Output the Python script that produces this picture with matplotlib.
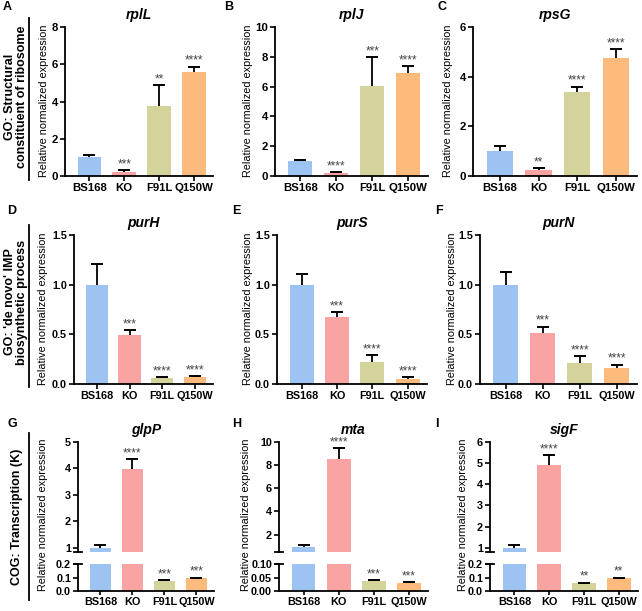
import numpy as np
import matplotlib
matplotlib.use("Agg")
import matplotlib.pyplot as plt
from matplotlib.lines import Line2D

plt.rcParams['font.family'] = ['Liberation Sans', 'DejaVu Sans']
plt.rcParams['font.weight'] = 'bold'

W, H = 642, 611

groups = ["BS168", "KO", "F91L", "Q150W"]
bar_colors = ["#9cc3f2", "#f9a3a3", "#d4d39c", "#fdba7d"]

# row 1: GO structural constituent of ribosome
rplL_mean = [1.0, 0.24, 3.76, 5.58]
rplL_err = [0.15, 0.06, 1.12, 0.29]
rplL_sig = ["", "***", "**", "****"]

rplJ_mean = [0.99, 0.2, 6.02, 6.94]
rplJ_err = [0.09, 0.07, 1.94, 0.41]
rplJ_sig = ["", "****", "***", "****"]

rpsG_mean = [1.0, 0.26, 3.4, 4.74]
rpsG_err = [0.21, 0.05, 0.2, 0.36]
rpsG_sig = ["", "**", "****", "****"]

# row 2: GO de novo IMP biosynthetic process
purH_mean = [1.0, 0.49, 0.064, 0.07]
purH_err = [0.21, 0.05, 0.006, 0.007]
purH_sig = ["", "***", "****", "****"]

purS_mean = [1.0, 0.675, 0.22, 0.054]
purS_err = [0.11, 0.05, 0.07, 0.016]
purS_sig = ["", "***", "****", "****"]

purN_mean = [1.0, 0.515, 0.21, 0.162]
purN_err = [0.13, 0.062, 0.068, 0.033]
purN_sig = ["", "***", "****", "****"]

# row 3: COG transcription (K)
glpP_mean = [1.0, 3.97, 0.077, 0.095]
glpP_err = [0.11, 0.38, 0.004, 0.004]
glpP_sig = ["", "****", "***", "***"]

mta_mean = [0.97, 8.5, 0.037, 0.031]
mta_err = [0.16, 0.95, 0.0025, 0.002]
mta_sig = ["", "****", "***", "***"]

sigF_mean = [1.0, 4.92, 0.057, 0.094]
sigF_err = [0.11, 0.46, 0.005, 0.006]
sigF_sig = ["", "****", "**", "**"]

fig = plt.figure(figsize=(W / 100, H / 100), dpi=100)


def px_axes(left, top, right, bottom):
    return fig.add_axes([left / W, 1 - bottom / H, (right - left) / W, (bottom - top) / H])


def style(ax, fs):
    for s in ["top", "right"]:
        ax.spines[s].set_visible(False)
    for s in ["left", "bottom"]:
        ax.spines[s].set_linewidth(1.3)
    ax.tick_params(width=1.2, length=3.5, labelsize=fs, pad=1.5)
    ax.set_xlim(-0.7, 3.55)


def draw_bars(ax, mean, err, sig):
    x = np.arange(len(groups))
    mean = np.array(mean)
    tops = mean + np.array(err)
    ax.bar(x, mean, width=0.68, color=bar_colors)
    ax.vlines(x, mean, tops, color="black", lw=1.3)
    ax.plot(x, tops, ls="none", marker="_", ms=9, mew=1.4, color="black")
    for xi, t, s in zip(x, tops, sig):
        if s:
            ax.annotate(s, (xi, t), xytext=(0, 0), textcoords="offset points",
                        ha="center", va="bottom", fontsize=8.5, color="#444444",
                        fontweight="normal")


def simple_panel(box, gene, mean, err, sig, ylim, yticks, ylabels, fs):
    ax = px_axes(*box)
    draw_bars(ax, mean, err, sig)
    style(ax, fs)
    ax.set_ylim(*ylim)
    ax.set_yticks(yticks)
    ax.set_yticklabels(ylabels)
    ax.set_xticks(np.arange(len(groups)))
    ax.set_xticklabels(groups)
    ax.set_title(gene, fontsize=10, fontweight="bold", fontstyle="italic", pad=6)
    return ax


def broken_panel(left, right, gene, mean, err, sig, up_lim, up_ticks, low_lim, low_ticks,
                 low_labels, fs):
    up = px_axes(left, 442, right, 552)
    low = px_axes(left, 564, right, 591)
    for ax in (up, low):
        draw_bars(ax, mean, err, sig)
        style(ax, fs)
    up.set_ylim(*up_lim)
    up.set_yticks(up_ticks)
    up.spines["bottom"].set_visible(False)
    up.set_xticks([])
    low.set_ylim(*low_lim)
    low.set_yticks(low_ticks)
    low.set_yticklabels(low_labels)
    low.set_xticks(np.arange(len(groups)))
    low.set_xticklabels(groups)
    low.tick_params(axis="x", length=3, pad=1)
    up.set_title(gene, fontsize=10, fontweight="bold", fontstyle="italic", pad=6)
    dx = 4.0 / (right - left)
    up.plot([-dx, dx], [0, 0], transform=up.transAxes, color="black", lw=1.3, clip_on=False)
    low.plot([-dx, dx], [1, 1], transform=low.transAxes, color="black", lw=1.3, clip_on=False)
    return up, low


fs1, fs2, fs3 = 8.2, 7.8, 7.8

simple_panel((65, 27, 213, 176), "rplL", rplL_mean, rplL_err, rplL_sig,
             (0, 8), [0, 2, 4, 6, 8], ["0", "2", "4", "6", "8"], fs1)
simple_panel((275, 27, 428, 176), "rplJ", rplJ_mean, rplJ_err, rplJ_sig,
             (0, 10), [0, 2, 4, 6, 8, 10], ["0", "2", "4", "6", "8", "10"], fs1)
simple_panel((473, 27, 637, 176), "rpsG", rpsG_mean, rpsG_err, rpsG_sig,
             (0, 6), [0, 2, 4, 6], ["0", "2", "4", "6"], fs1)

lab15 = ["0.0", "0.5", "1.0", "1.5"]
simple_panel((74, 235, 213, 384), "purH", purH_mean, purH_err, purH_sig,
             (0, 1.5), [0, 0.5, 1.0, 1.5], lab15, fs2)
simple_panel((277, 235, 427, 384), "purS", purS_mean, purS_err, purS_sig,
             (0, 1.5), [0, 0.5, 1.0, 1.5], lab15, fs2)
simple_panel((480, 235, 637, 384), "purN", purN_mean, purN_err, purN_sig,
             (0, 1.5), [0, 0.5, 1.0, 1.5], lab15, fs2)

broken_panel(78, 214, "glpP", glpP_mean, glpP_err, glpP_sig, (0.83, 5), [1, 2, 3, 4, 5],
             (0, 0.2), [0, 0.1, 0.2], ["0.0", "0.1", "0.2"], fs3)
broken_panel(279, 428, "mta", mta_mean, mta_err, mta_sig, (0.5, 10), [2, 4, 6, 8, 10],
             (0, 0.1), [0, 0.05, 0.1], ["0.00", "0.05", "0.10"], fs3)
broken_panel(490, 638, "sigF", sigF_mean, sigF_err, sigF_sig, (0.8, 6), [1, 2, 3, 4, 5, 6],
             (0, 0.2), [0, 0.1, 0.2], ["0.0", "0.1", "0.2"], fs3)

# y-axis labels
ylab = "Relative normalized expression"
for x, yc in [(44, 101), (248, 101), (448, 101),
              (43, 309), (248, 309), (452, 309),
              (43, 515), (246, 515), (463, 515)]:
    fig.text(x / W, 1 - yc / H, ylab, rotation=90, ha="center", va="center",
             fontsize=7.8, fontweight="normal")

# row group labels with vertical bars
row_labels = ["GO: Structural\nconstituent of ribosome",
              "GO: 'de novo' IMP\nbiosynthetic process",
              "COG: Transcription (K)"]
for txt, x, yc, y1, y2 in [(row_labels[0], 16, 97, 18, 180),
                           (row_labels[1], 16, 302, 225, 387),
                           (row_labels[2], 17, 517, 433, 600)]:
    fig.text(x / W, 1 - yc / H, txt, rotation=90, ha="center", va="center",
             fontsize=9, fontweight="bold", linespacing=1.0)
    fig.add_artist(Line2D([29 / W, 29 / W], [1 - y1 / H, 1 - y2 / H],
                          transform=fig.transFigure, color="black", lw=1.3))

# panel letters
for letter, x, y in [("A", 3, 7), ("B", 224, 7), ("C", 437, 7),
                     ("D", 7, 211), ("E", 232, 211), ("F", 435, 211),
                     ("G", 7, 424), ("H", 232, 424), ("I", 435, 424)]:
    fig.text(x / W, 1 - y / H, letter, ha="left", va="center", fontsize=9, fontweight="bold")

fig.savefig("out.png", dpi=100)
